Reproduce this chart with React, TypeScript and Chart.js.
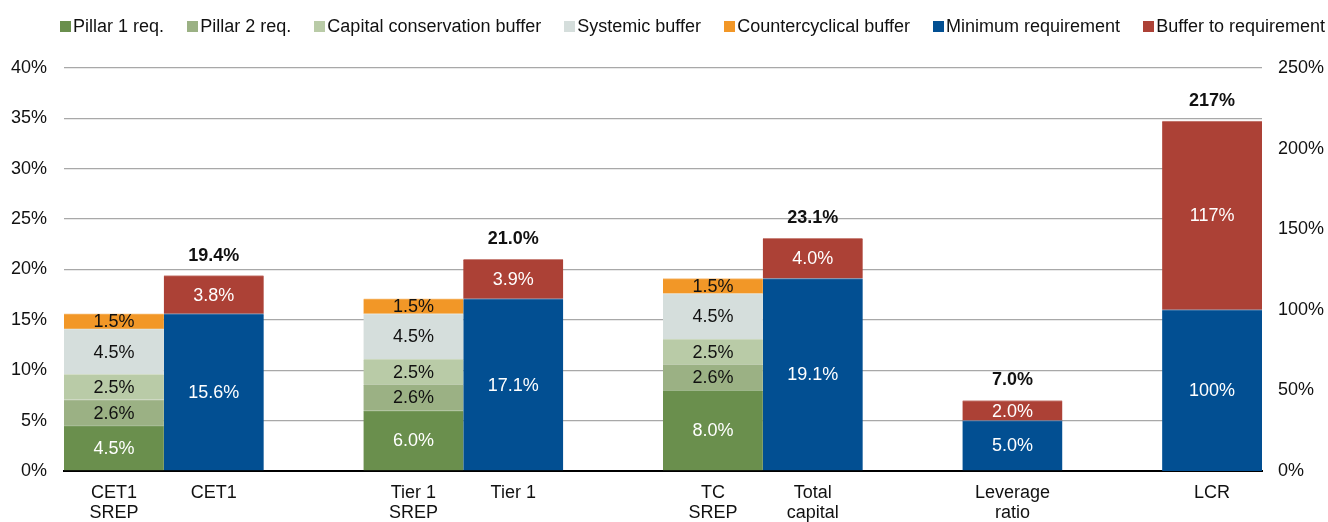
import React, { useEffect, useRef } from "react";
import { Chart, registerables } from "chart.js";

Chart.register(...registerables);

const FONT = '"Liberation Sans", Arial, Helvetica, sans-serif';

const categories: (string | string[])[] = [
  ["CET1", "SREP"], "CET1", "",
  ["Tier 1", "SREP"], "Tier 1", "",
  ["TC", "SREP"], ["Total", "capital"], "",
  ["Leverage", "ratio"], "", "LCR",
];

const pillar1 = [4.5, null, null, 6.0, null, null, 8.0, null, null, null, null, null];
const pillar2 = [2.6, null, null, 2.6, null, null, 2.6, null, null, null, null, null];
const conservation = [2.5, null, null, 2.5, null, null, 2.5, null, null, null, null, null];
const systemic = [4.5, null, null, 4.5, null, null, 4.5, null, null, null, null, null];
const countercyclical = [1.5, null, null, 1.5, null, null, 1.5, null, null, null, null, null];
const minimumReq = [null, 15.6, null, null, 17.1, null, null, 19.1, null, 5.0, null, null];
const bufferToReq = [null, 3.8, null, null, 3.9, null, null, 4.0, null, 2.0, null, null];
const lcrMinimum = [null, null, null, null, null, null, null, null, null, null, null, 100];
const lcrBuffer = [null, null, null, null, null, null, null, null, null, null, null, 117];

const leftAxis = { min: 0, max: 40, step: 5 };
const rightAxis = { min: 0, max: 250, step: 50 };

const COLORS = {
  p1: "#6a8f4d",
  p2: "#9bb184",
  ccb: "#b9cba7",
  sys: "#d5dedc",
  ccyb: "#f29727",
  min: "#024f92",
  buf: "#ac4136",
};

const tint = (hex: string, t: number) => {
  const n = parseInt(hex.slice(1), 16);
  const r = (n >> 16) & 255, g = (n >> 8) & 255, b = n & 255;
  const m = (c: number) => Math.round(c + (255 - c) * t);
  return `rgb(${m(r)},${m(g)},${m(b)})`;
};

const fmt = (v: number, axis: string) =>
  axis === "y2" ? `${v.toFixed(0)}%` : `${v.toFixed(1)}%`;

const labelsPlugin = {
  id: "segmentLabels",
  afterDatasetsDraw(chart: any) {
    const ctx = chart.ctx;
    ctx.save();
    ctx.textAlign = "center";
    ctx.textBaseline = "middle";
    ctx.font = `18px ${FONT}`;
    const totals: Record<number, { sum: number; top: number; x: number; axis: string }> = {};
    chart.data.datasets.forEach((ds: any, di: number) => {
      const meta = chart.getDatasetMeta(di);
      meta.data.forEach((el: any, i: number) => {
        const v = ds.data[i];
        if (v == null) return;
        const p = el.getProps(["x", "y", "base"], true);
        ctx.fillStyle = ds.labelColor;
        ctx.fillText(fmt(v, ds.yAxisID), p.x, (p.y + p.base) / 2 + 1);
        if (ds.showTotal) {
          const t = totals[i] || { sum: 0, top: Infinity, x: p.x, axis: ds.yAxisID };
          t.sum += v;
          t.top = Math.min(t.top, p.y);
          totals[i] = t;
        }
      });
    });
    ctx.font = `bold 18px ${FONT}`;
    ctx.fillStyle = "#111";
    Object.values(totals).forEach((t) => {
      ctx.fillText(fmt(t.sum, t.axis), t.x, t.top - 20);
    });
    ctx.restore();
  },
};

const legendPlugin = {
  id: "customLegend",
  afterDraw(chart: any) {
    const ctx = chart.ctx;
    ctx.save();
    ctx.font = `18px ${FONT}`;
    ctx.textBaseline = "middle";
    ctx.textAlign = "left";
    const items = chart.data.datasets.filter((d: any) => d.inLegend);
    const box = 11;
    const gapText = 2;
    const widths = items.map((d: any) => ctx.measureText(d.label).width);
    const total = widths.reduce((a: number, w: number) => a + box + gapText + w, 0);
    const start = 60;
    const end = 1325;
    const spacing = (end - start - total) / (items.length - 1);
    let x = start;
    items.forEach((d: any, i: number) => {
      ctx.fillStyle = d.backgroundColor;
      ctx.fillRect(Math.round(x), 21, box, box);
      ctx.fillStyle = "#111";
      ctx.fillText(d.label, x + box + gapText, 27);
      x += box + gapText + widths[i] + spacing;
    });
    ctx.restore();
  },
};

export default function App() {
  const ref = useRef<HTMLCanvasElement | null>(null);

  useEffect(() => {
    if (!ref.current) return;
    const mk = (label: string, data: any[], color: string, labelColor: string, axis: string, inLegend: boolean, showTotal: boolean) => ({
      label,
      data,
      backgroundColor: color,
      borderColor: tint(color, 0.35),
      borderWidth: { top: 1, left: 0, right: 0, bottom: 0 },
      borderSkipped: false,
      yAxisID: axis,
      labelColor,
      inLegend,
      showTotal,
    });
    const chart = new Chart(ref.current, {
      type: "bar",
      data: {
        labels: categories as any,
        datasets: [
          mk("Pillar 1 req.", pillar1, COLORS.p1, "#fff", "y", true, false),
          mk("Pillar 2 req.", pillar2, COLORS.p2, "#111", "y", true, false),
          mk("Capital conservation buffer", conservation, COLORS.ccb, "#111", "y", true, false),
          mk("Systemic buffer", systemic, COLORS.sys, "#111", "y", true, false),
          mk("Countercyclical buffer", countercyclical, COLORS.ccyb, "#111", "y", true, false),
          mk("Minimum requirement", minimumReq, COLORS.min, "#fff", "y", true, true),
          mk("Buffer to requirement", bufferToReq, COLORS.buf, "#fff", "y", true, true),
          mk("LCR minimum", lcrMinimum, COLORS.min, "#fff", "y2", false, true),
          mk("LCR buffer", lcrBuffer, COLORS.buf, "#fff", "y2", false, true),
        ] as any,
      },
      options: {
        responsive: false,
        animation: false,
        devicePixelRatio: 1,
        layout: { padding: { top: 68, left: 0, right: 0, bottom: 0 } },
        datasets: { bar: { categoryPercentage: 1, barPercentage: 1 } },
        plugins: { legend: { display: false }, tooltip: { enabled: false } },
        scales: {
          x: {
            stacked: true,
            grid: { display: false, drawTicks: false },
            border: { display: true, color: "#000", width: 2 },
            ticks: {
              padding: 12,
              color: "#111",
              autoSkip: false,
              maxRotation: 0,
              font: { size: 18, family: FONT, lineHeight: 1.1 },
            },
            afterFit: (s: any) => {
              s.height = 51;
            },
          },
          y: {
            stacked: true,
            position: "left",
            min: leftAxis.min,
            max: leftAxis.max,
            ticks: {
              stepSize: leftAxis.step,
              padding: 17,
              color: "#111",
              font: { size: 18, family: FONT },
              callback: (v: any) => `${v}%`,
            },
            grid: {
              drawTicks: false,
              lineWidth: 1.3,
              color: (c: any) => (c.tick && c.tick.value === 0 ? "rgba(0,0,0,0)" : "#a8a8a8"),
            },
            border: { display: false },
            afterFit: (s: any) => {
              s.width = 64;
            },
          },
          y2: {
            stacked: true,
            position: "right",
            min: rightAxis.min,
            max: rightAxis.max,
            ticks: {
              stepSize: rightAxis.step,
              padding: 16,
              color: "#111",
              font: { size: 18, family: FONT },
              callback: (v: any) => `${v}%`,
            },
            grid: { display: false, drawTicks: false },
            border: { display: false },
            afterFit: (s: any) => {
              s.width = 66;
            },
          },
        },
      } as any,
      plugins: [labelsPlugin, legendPlugin],
    });
    return () => chart.destroy();
  }, []);

  return (
    <div style={{ position: "fixed", left: 0, top: 0, width: 1328, height: 522, overflow: "hidden", background: "#fff" }}>
      <canvas ref={ref} width={1328} height={522} style={{ display: "block" }} />
    </div>
  );
}
